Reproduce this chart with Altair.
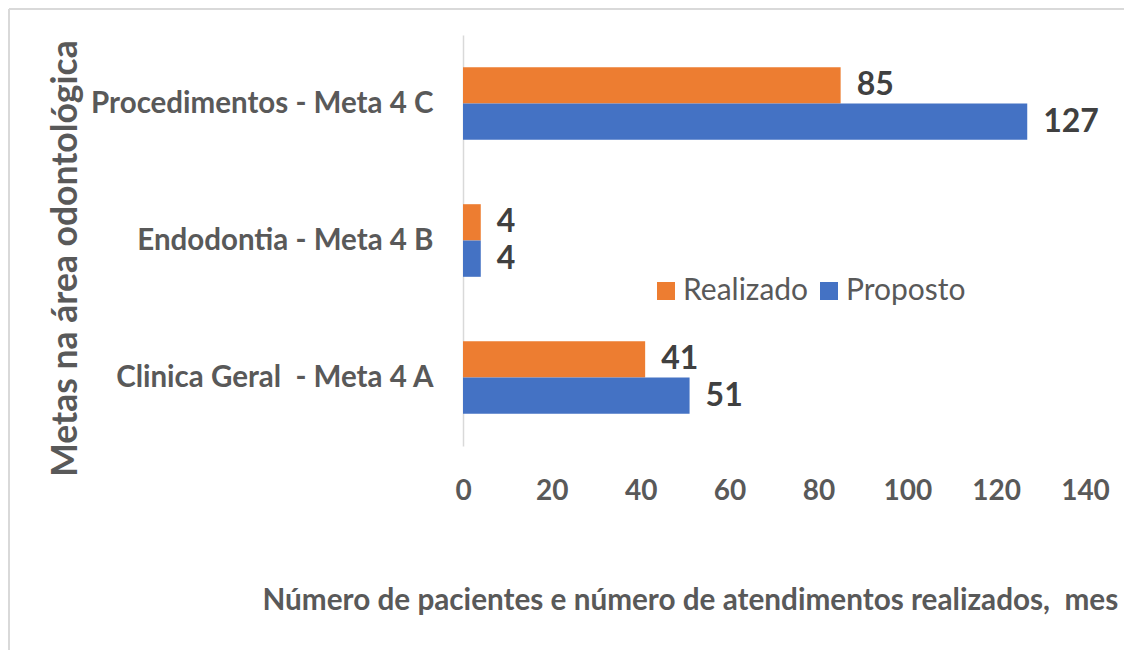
import altair as alt
import pandas as pd

categories = ["Procedimentos - Meta 4 C", "Endodontia - Meta 4 B", "Clinica Geral\u00a0 - Meta 4 A"]
series = ["Realizado", "Proposto"]
realizado = [85, 4, 41]
proposto = [127, 4, 51]
x_ticks = [0, 20, 40, 60, 80, 100, 120, 140]
colors = ["#ED7D31", "#4472C4"]

rows = []
for c, r, p in zip(categories, realizado, proposto):
    rows.append({"category": c, "series": "Realizado", "value": r})
    rows.append({"category": c, "series": "Proposto", "value": p})
df = pd.DataFrame(rows)

FONT = "Lato"
GREY = "#595959"

y_enc = alt.Y(
    "category:N",
    sort=categories,
    scale=alt.Scale(paddingInner=0.47, paddingOuter=0.235),
    axis=alt.Axis(
        title="Metas na área odontológica",
        titleFont=FONT, titleFontSize=35.5, titleFontWeight="bold", titleColor=GREY,
        titleAngle=-90, titleX=-398, titleY=223, titleAlign="center", titleBaseline="middle",
        labelFont=FONT, labelFontSize=29.5, labelFontWeight="bold", labelColor=GREY,
        labelPadding=30, ticks=False, domainColor="#D9D9D9", domainWidth=1.5, labelLimit=600,
    ),
)
x_enc = alt.X(
    "value:Q",
    scale=alt.Scale(domain=[0, 140], nice=False),
    axis=alt.Axis(
        values=x_ticks, grid=False, domain=False, ticks=False, labelFlush=False,
        labelFont=FONT, labelFontSize=28, labelFontWeight="bold", labelColor=GREY,
        labelPadding=31,
        title="Número de pacientes e número de atendimentos realizados,\u00a0 mes",
        titleFont=FONT, titleFontSize=29.7, titleFontWeight="bold", titleColor=GREY,
        titleX=-201, titleY=154, titleAlign="left", titleBaseline="middle",
    ),
)
yoff = alt.YOffset("series:N", sort=series, scale=alt.Scale(paddingInner=0, paddingOuter=0))

bars = alt.Chart(df).mark_bar().encode(
    y=y_enc, x=x_enc, yOffset=yoff,
    color=alt.Color(
        "series:N",
        scale=alt.Scale(domain=series, range=colors),
        legend=alt.Legend(
            title=None, orient="none", legendX=188, legendY=241, direction="horizontal",
            symbolType="square", symbolSize=324, symbolStrokeWidth=0,
            labelFont=FONT, labelFontSize=30, labelColor=GREY, labelOffset=2,
            columnPadding=5,
        ),
    ),
)
labels = alt.Chart(df).mark_text(
    align="left", baseline="middle", dx=16, font=FONT, fontSize=32, fontWeight="bold", color="#404040"
).encode(y=y_enc, x=x_enc, yOffset=yoff, text=alt.Text("value:Q"))

border_left = alt.Chart(df).mark_rule(color="#D9D9D9", strokeWidth=1.5).encode(
    x=alt.value(-454), y=alt.value(-26), y2=alt.value(620)
)
border_top = alt.Chart(df).mark_rule(color="#D9D9D9", strokeWidth=1.5).encode(
    x=alt.value(-454), x2=alt.value(670), y=alt.value(-26)
)

chart = alt.layer(border_left, border_top, bars, labels).properties(
    width=622, height=411,
    autosize=alt.AutoSizeParams(type="none"),
    padding={"left": 455, "top": 27, "right": 39, "bottom": 204},
).configure_view(strokeWidth=0)

chart.save("out.html", embed_options={"renderer": "svg", "actions": False})
